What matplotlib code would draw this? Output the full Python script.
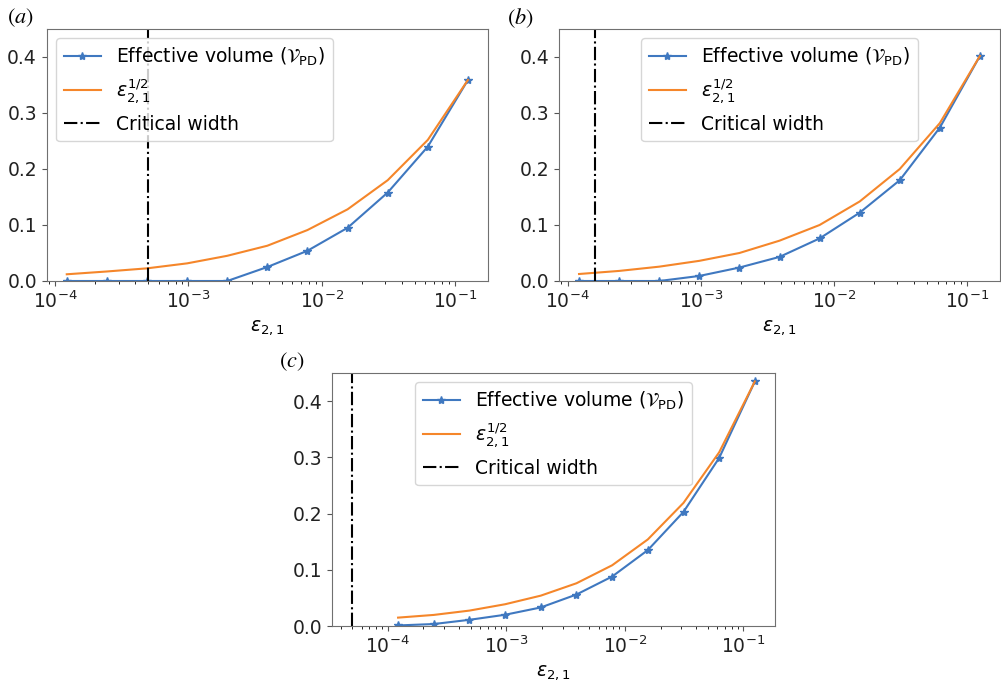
import numpy as np
import matplotlib
matplotlib.use("Agg")
import matplotlib.pyplot as plt

# Perturbation widths eps_{2,1} = 2^-13 ... 2^-3
eps = [2.0 ** -k for k in range(13, 2, -1)]

# Panel (a)
vol_a = [0.0, 0.0, 0.0, 0.0, 0.0, 0.025, 0.054, 0.095, 0.158, 0.240, 0.359]
sq_a = [0.012, 0.017, 0.0226, 0.0315, 0.045, 0.063, 0.091, 0.128, 0.180, 0.252, 0.359]
crit_a = 5.0e-4

# Panel (b)
vol_b = [0.0, 0.0, 0.0, 0.009, 0.024, 0.043, 0.076, 0.122, 0.180, 0.274, 0.402]
sq_b = [0.0125, 0.018, 0.0256, 0.036, 0.050, 0.072, 0.100, 0.142, 0.200, 0.282, 0.402]
crit_b = 1.6e-4

# Panel (c)
vol_c = [0.001, 0.0035, 0.011, 0.020, 0.033, 0.056, 0.088, 0.135, 0.203, 0.299, 0.435]
sq_c = [0.0149, 0.0197, 0.0274, 0.0387, 0.054, 0.076, 0.108, 0.154, 0.219, 0.309, 0.435]
crit_c = 5.0e-5

panel_tags = ["(a)", "(b)", "(c)"]

W, H = 1001, 681
fig = plt.figure(figsize=(W / 100, H / 100), dpi=100)
plt.rcParams["font.size"] = 13.5

BLUE = "#3f78c0"
ORANGE = "#f5862a"


def px_axes(left, top, right, bottom):
    return fig.add_axes([left / W, 1 - bottom / H, (right - left) / W, (bottom - top) / H])


def draw(ax, vol, sq, crit, loc):
    ax.plot(eps, vol, "-*", color=BLUE, lw=1.5, ms=6, label=r"Effective volume ($\mathcal{V}_{\mathrm{PD}}$)")
    ax.plot(eps, sq, "-", color=ORANGE, lw=1.5, label=r"$\epsilon_{2,1}^{1/2}$")
    ax.axvline(crit, color="k", ls="-.", lw=1.5, label="Critical width")
    ax.set_xscale("log")
    ax.set_ylim(0, 0.45)
    ax.set_yticks([0.0, 0.1, 0.2, 0.3, 0.4])
    ax.set_xlabel(r"$\epsilon_{2,1}$")
    for s in ax.spines.values():
        s.set_color("#707070")
    ax.tick_params(colors="#555555", labelcolor="#222222")
    ax.legend(loc=loc, fontsize=13.5, framealpha=0.8)


ax_a = px_axes(46.7, 29, 488, 281)
ax_b = px_axes(559, 29, 1000, 281)
ax_c = px_axes(332, 373, 775, 626)

draw(ax_a, vol_a, sq_a, crit_a, "upper left")
draw(ax_b, vol_b, sq_b, crit_b, "upper center")
draw(ax_c, vol_c, sq_c, crit_c, "upper center")

for tag, (x, y) in zip(panel_tags, [(20, 18), (520, 18), (292, 362)]):
    fig.text(x / W, 1 - y / H, "$" + tag + "$", ha="center", va="center",
             fontsize=16, math_fontfamily="stix")

fig.savefig("out.png", dpi=100)
